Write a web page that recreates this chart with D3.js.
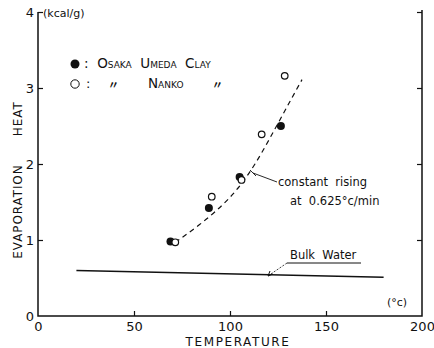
<!DOCTYPE html>
<html>
<head>
<meta charset="utf-8">
<script src="https://cdn.jsdelivr.net/npm/d3@7"></script>
<style>
  body { margin: 0; background: #fff; }
  svg { display: block; }
  text { font-family: "DejaVu Sans", sans-serif; fill: #111; }
</style>
</head>
<body>
<svg id="chart"></svg>
<script>
// evaporation heat vs temperature

const width = 434;
const height = 348;

// Osaka Umeda clay (filled)
const umedaTemp = [69, 89, 105, 126.5];
const umedaHeat = [0.98, 1.42, 1.83, 2.50];

// Nanko clay (open)
const nankoTemp = [71.5, 90.5, 106, 116.5, 128.5];
const nankoHeat = [0.97, 1.57, 1.79, 2.39, 3.16];

// dashed fit, constant rising at 0.625 °c/min
const fitTemp = [71.5, 84, 96, 105, 113, 121, 129, 137.5];
const fitHeat = [0.97, 1.20, 1.46, 1.71, 2.00, 2.35, 2.72, 3.11];

// bulk water
const bulkTemp = [20, 180];
const bulkHeat = [0.60, 0.51];

const xTicks = [0, 50, 100, 150, 200];
const yTicks = [0, 1, 2, 3, 4];

const svg = d3.select("#chart")
  .attr("width", width)
  .attr("height", height);

const x = d3.scaleLinear().domain([0, 200]).range([38, 422]);
const y = d3.scaleLinear().domain([0, 4]).range([316, 12]);

// frame: left, bottom, right
svg.append("path")
  .attr("d", `M${x(0)},${y(4)}V${y(0)}H${x(200)}V${y(4) - 2}`)
  .attr("fill", "none")
  .attr("stroke", "#111")
  .attr("stroke-width", 1.5);

// left axis, ticks point inward
const yAxis = svg.append("g")
  .attr("transform", `translate(${x(0)},0)`)
  .call(d3.axisLeft(y).tickValues(yTicks).tickFormat(d3.format("d"))
    .tickSizeInner(-5).tickSizeOuter(0).tickPadding(4));
yAxis.select(".domain").remove();
yAxis.selectAll("line").attr("stroke", "#111").attr("stroke-width", 1.2);
yAxis.selectAll("text").style("font-size", "13px").attr("font-family", null);
yAxis.selectAll(".tick").filter(d => d === 0).select("line").remove();

// right axis ticks only
const yAxisR = svg.append("g")
  .attr("transform", `translate(${x(200)},0)`)
  .call(d3.axisLeft(y).tickValues([1, 2, 3, 4]).tickSize(5).tickFormat(""));
yAxisR.select(".domain").remove();
yAxisR.selectAll("line").attr("stroke", "#111").attr("stroke-width", 1.2);

// bottom axis
const xAxis = svg.append("g")
  .attr("transform", `translate(0,${y(0)})`)
  .call(d3.axisBottom(x).tickValues(xTicks).tickSizeInner(-5).tickSizeOuter(0).tickPadding(6));
xAxis.select(".domain").remove();
xAxis.selectAll("line").attr("stroke", "#111").attr("stroke-width", 1.2);
xAxis.selectAll(".tick").filter(d => d === 0 || d === 200).select("line").remove();
xAxis.selectAll("text").style("font-size", "13px").attr("font-family", null);

// axis titles
svg.append("text")
  .attr("x", 43).attr("y", 17)
  .style("font-size", "11px")
  .text("(kcal/g)");

svg.append("text")
  .attr("x", 397).attr("y", 306)
  .attr("text-anchor", "middle")
  .style("font-size", "11px")
  .text("(°c)");

svg.append("text")
  .attr("x", 238).attr("y", 346)
  .attr("text-anchor", "middle")
  .style("font-size", "12px")
  .style("letter-spacing", "1.6px")
  .text("TEMPERATURE");

svg.append("text")
  .attr("transform", "translate(22,180) rotate(-90)")
  .attr("text-anchor", "middle")
  .style("font-size", "12px")
  .style("letter-spacing", "0.9px")
  .attr("xml:space", "preserve")
  .text("EVAPORATION      HEAT");

// bulk water line
const line = d3.line().x(d => x(d[0])).y(d => y(d[1]));
svg.append("path")
  .attr("d", line(d3.zip(bulkTemp, bulkHeat)))
  .attr("fill", "none")
  .attr("stroke", "#111")
  .attr("stroke-width", 1.5);

// dashed rising curve
svg.append("path")
  .attr("d", line.curve(d3.curveNatural)(d3.zip(fitTemp, fitHeat)))
  .attr("fill", "none")
  .attr("stroke", "#111")
  .attr("stroke-width", 1.2)
  .attr("stroke-dasharray", "5,4");

// points
svg.append("g").selectAll("circle")
  .data(d3.zip(umedaTemp, umedaHeat))
  .join("circle")
  .attr("cx", d => x(d[0])).attr("cy", d => y(d[1]))
  .attr("r", 4)
  .attr("fill", "#111");

svg.append("g").selectAll("circle")
  .data(d3.zip(nankoTemp, nankoHeat))
  .join("circle")
  .attr("cx", d => x(d[0])).attr("cy", d => y(d[1]))
  .attr("r", 3.3)
  .attr("fill", "#fff")
  .attr("stroke", "#111")
  .attr("stroke-width", 1.2);

// legend
svg.append("circle").attr("cx", 75).attr("cy", 64).attr("r", 4.5).attr("fill", "#111");
svg.append("circle").attr("cx", 75).attr("cy", 84).attr("r", 4.2)
  .attr("fill", "#fff").attr("stroke", "#111").attr("stroke-width", 1);

svg.append("text")
  .attr("x", 84).attr("y", 68)
  .style("font-size", "13.5px")
  .style("font-variant", "small-caps")
  .attr("xml:space", "preserve")
  .text(":  Osaka  Umeda  Clay");

const row2 = svg.append("g").style("font-size", "13px");
row2.append("text").attr("x", 86).attr("y", 88).text(":");
row2.append("text").attr("x", 108).attr("y", 89).text("〃")
  .style("font-size", "11px")
  .style("font-family", "'Noto Sans CJK JP'").style("font-weight", "bold");
row2.append("text").attr("x", 148).attr("y", 88)
  .style("font-size", "13.5px")
  .style("font-variant", "small-caps").text("Nanko");
row2.append("text").attr("x", 212).attr("y", 89).text("〃")
  .style("font-size", "11px")
  .style("font-family", "'Noto Sans CJK JP'").style("font-weight", "bold");

// annotation: constant rising
svg.append("path")
  .attr("d", "M250,170L256,176M253,173L277,182")
  .attr("fill", "none").attr("stroke", "#111").attr("stroke-width", 0.9);
svg.append("text").attr("x", 278).attr("y", 186)
  .style("font-size", "11.5px").text("constant  rising")
  .attr("xml:space", "preserve");
svg.append("text").attr("x", 290).attr("y", 205)
  .style("font-size", "11.5px").text("at  0.625°c/min")
  .attr("xml:space", "preserve");

// annotation: bulk water
svg.append("text").attr("x", 290).attr("y", 259)
  .style("font-size", "11.5px").text("Bulk  Water")
  .attr("xml:space", "preserve");
svg.append("line").attr("x1", 287).attr("x2", 361).attr("y1", 263).attr("y2", 263)
  .attr("stroke", "#111").attr("stroke-width", 1);
svg.append("path")
  .attr("d", "M287,263L268,276")
  .attr("fill", "none").attr("stroke", "#111").attr("stroke-width", 0.8)
  .attr("stroke-dasharray", "2,1.5");
svg.append("path")
  .attr("d", "M268,276L270,271M268,276L273,274")
  .attr("fill", "none").attr("stroke", "#111").attr("stroke-width", 1);
</script>
</body>
</html>
